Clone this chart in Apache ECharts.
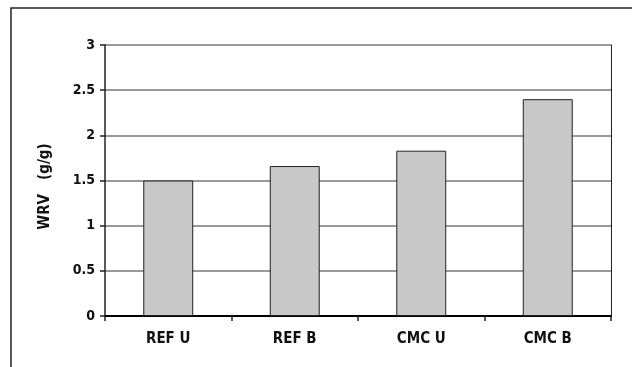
<!DOCTYPE html>
<html>
<head>
<meta charset="utf-8">
<script src="https://cdn.jsdelivr.net/npm/echarts@6/dist/echarts.min.js"></script>
<style>
  html, body { margin: 0; padding: 0; background: #fff; }
  #main { width: 632px; height: 367px; }
</style>
</head>
<body>
<div id="main"></div>
<script>
const categories = ['REF U', 'REF B', 'CMC U', 'CMC B'];
const wrvValues = [1.5, 1.66, 1.83, 2.4];
const yTicks = [0, 0.5, 1, 1.5, 2, 2.5, 3];

const font = '"DejaVu Sans Condensed", "Liberation Sans Narrow", sans-serif';

let myChart = echarts.init(document.getElementById('main'));

let option = {
    animation: false,
    backgroundColor: '#fff',
    graphic: [
        {
            type: 'polyline',
            shape: { points: [[11, 400], [11, 8], [640, 8]] },
            style: { stroke: '#222', lineWidth: 1.5, fill: null },
            silent: true
        }
    ],
    grid: {
        left: 105,
        right: 21,
        top: 45,
        bottom: 51
    },
    xAxis: [
        {
            type: 'category',
            data: categories,
            axisLine: { lineStyle: { color: '#222', width: 1.5 } },
            axisTick: { show: true, length: 5, lineStyle: { color: '#222', width: 1.5 } },
            axisLabel: {
                color: '#111',
                fontFamily: font,
                fontWeight: 'bold',
                fontSize: 15,
                margin: 16
            }
        },
        {
            type: 'category',
            data: categories,
            position: 'top',
            axisLine: { lineStyle: { color: '#000', width: 2 } },
            axisTick: { show: false },
            axisLabel: { show: false }
        }
    ],
    yAxis: [
        {
            type: 'value',
            min: 0,
            max: yTicks[yTicks.length - 1],
            interval: 0.5,
            name: 'WRV   (g/g)',
            nameLocation: 'middle',
            nameGap: 52,
            nameRotate: 90,
            nameTextStyle: {
                color: '#111',
                fontFamily: font,
                fontWeight: 'bold',
                fontSize: 15,
                padding: [0, 12, 0, 0]
            },
            axisLine: { show: true, lineStyle: { color: '#222', width: 1.5 } },
            axisTick: { show: true, length: 5, lineStyle: { color: '#222', width: 1.5 } },
            axisLabel: {
                color: '#111',
                fontFamily: font,
                fontWeight: 'bold',
                fontSize: 14,
                margin: 10
            },
            splitLine: { show: true, lineStyle: { color: '#777', width: 1.5 } }
        },
        {
            type: 'value',
            min: 0,
            max: yTicks[yTicks.length - 1],
            interval: 0.5,
            position: 'right',
            axisLine: { show: true, lineStyle: { color: '#222', width: 1 } },
            axisTick: { show: false },
            axisLabel: { show: false },
            splitLine: { show: false }
        }
    ],
    series: [
        {
            type: 'bar',
            data: wrvValues,
            barWidth: '39.5%',
            itemStyle: {
                color: '#c8c8c8',
                borderColor: '#222',
                borderWidth: 1
            }
        }
    ]
};

myChart.setOption(option);
</script>
</body>
</html>
